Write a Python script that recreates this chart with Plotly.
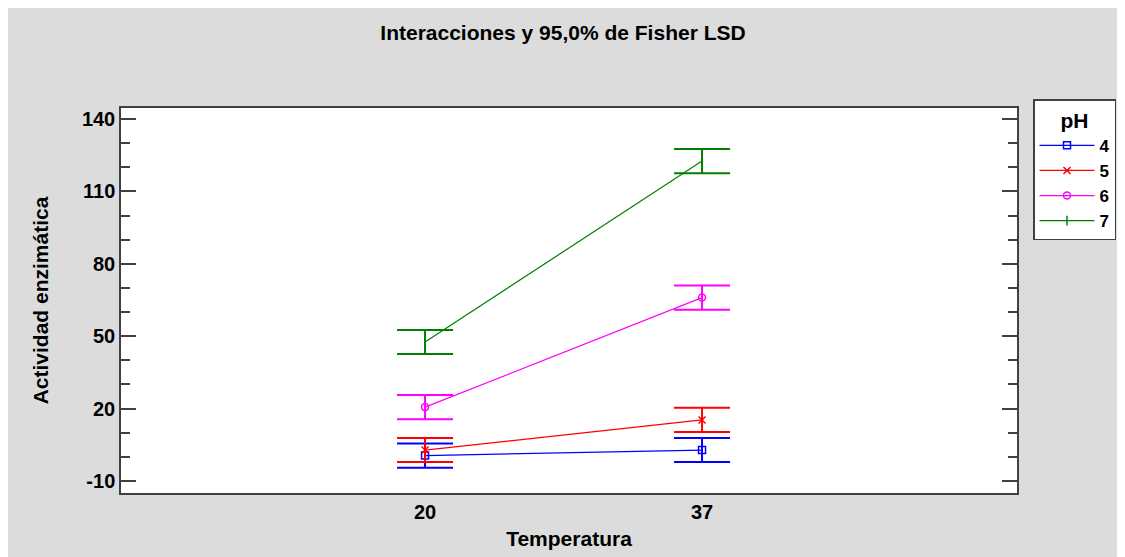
import plotly.graph_objects as go

temperatures = [20, 37]
ph_levels = ["4", "5", "6", "7"]
means_ph4 = [0.5, 2.8]
means_ph5 = [2.8, 15.3]
means_ph6 = [20.6, 66.0]
means_ph7 = [47.6, 122.6]
lsd_half = [5.0, 5.0]
y_ticks = [-10, 20, 50, 80, 110, 140]
y_minor = [0, 10, 30, 40, 60, 70, 90, 100, 120, 130]

colors = ["#0000FF", "#FF0000", "#FF00FF", "#008000"]
symbols = ["square-open", "x-thin-open", "circle-open", "line-ns-open"]
all_means = [means_ph4, means_ph5, means_ph6, means_ph7]

FONT = "Liberation Sans, Arial, sans-serif"

fig = go.Figure()
for name, vals, color, sym in zip(ph_levels, all_means, colors, symbols):
    fig.add_trace(go.Scatter(
        x=temperatures, y=vals, name=f"<b>{name}</b>", mode="lines+markers",
        line=dict(color=color, width=1.2),
        marker=dict(symbol=sym, size=7, color=color, line=dict(color=color, width=1.5)),
        error_y=dict(type="data", array=lsd_half, visible=True, color=color,
                     thickness=2, width=28),
    ))

# page is offset by the 8px body margin; work in figure pixels
OFF = 8
W, H = 1125 - OFF, 557 - OFF
L = 121 - OFF
T = 108 - OFF
R = W - (1017 - OFF)
B = H - (493 - OFF)
pw, ph = W - L - R, H - T - B
def px(x): return (x - OFF - L) / pw
def py(y): return (H - B - (y - OFF)) / ph

fig.update_layout(
    width=W, height=H,
    margin=dict(l=L, r=R, t=T, b=B, autoexpand=False),
    paper_bgcolor="#DCDCDC", plot_bgcolor="white",
    font=dict(family=FONT, size=20, color="black"),
    title=dict(text="<b>Interacciones y 95,0% de Fisher LSD</b>", xref="container",
               x=(563 - OFF) / W, xanchor="center", yref="container",
               y=1 - (33 - OFF) / H, yanchor="middle",
               font=dict(size=21, family=FONT)),
    legend=dict(
        x=px(1033), y=py(99), xanchor="left", yanchor="top",
        bgcolor="white", bordercolor="#404040", borderwidth=1.5,
        title=dict(text="<b>pH</b>", side="top center", font=dict(size=21, family=FONT)),
        font=dict(size=17, family=FONT),
        tracegroupgap=0, itemwidth=55,
    ),
    showlegend=True,
)

fig.update_xaxes(
    range=[1.34, 56.33], tickvals=temperatures, ticktext=[f"<b>{t}</b>" for t in temperatures],
    showgrid=False, zeroline=False, showline=True, linecolor="#404040", linewidth=1.5,
    mirror=True, ticks="", automargin=False,
    title=dict(text="<b>Temperatura</b>", font=dict(size=21, family=FONT), standoff=10),
    tickfont=dict(size=20, family=FONT),
)
fig.update_yaxes(
    range=[-15, 144.6], tickvals=y_ticks, ticktext=[f"<b>{t}</b>" for t in y_ticks],
    showgrid=False, zeroline=False, showline=True, linecolor="#404040", linewidth=1.5,
    mirror="ticks", ticks="inside", ticklen=15, tickcolor="#404040", tickwidth=1.5,
    minor=dict(tickvals=y_minor, ticks="inside", ticklen=9,
               tickcolor="#404040", tickwidth=1.5, showgrid=False),
    automargin=False,
    title=dict(text="<b>Actividad enzimática</b>", font=dict(size=21, family=FONT), standoff=28),
    tickfont=dict(size=20, family=FONT),
)

fig.write_html("out.html")
